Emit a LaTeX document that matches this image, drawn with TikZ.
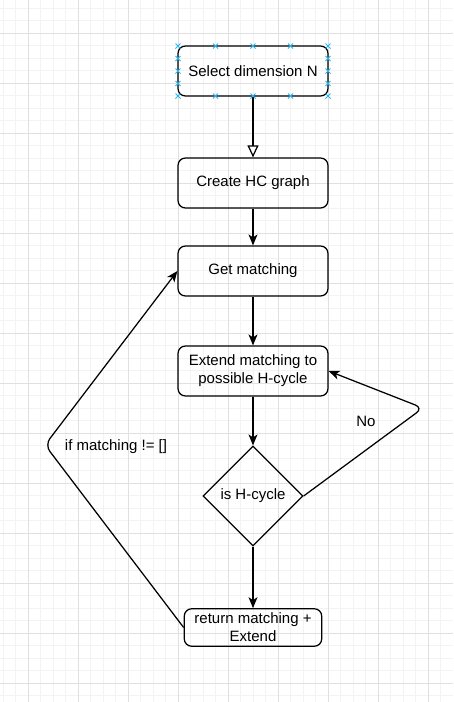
\documentclass[tikz,border=0pt]{standalone}
\usepackage{fontspec}
\setmainfont{Liberation Sans}
\usetikzlibrary{arrows.meta,shapes.geometric}
\definecolor{minorgrid}{RGB}{243,243,243}
\definecolor{majorgrid}{RGB}{224,224,224}
\definecolor{handleblue}{RGB}{41,182,242}

\begin{document}
\begin{tikzpicture}[x=1pt,y=-1pt,
  every node/.style={font=\fontsize{15}{18}\selectfont},
  stepbox/.style={draw,rectangle,rounded corners=7.5pt,line width=1.25pt,
    minimum width=150pt,minimum height=50pt,align=center,inner sep=2pt},
  testbox/.style={draw,diamond,line width=1.25pt,minimum width=100pt,
    minimum height=100pt,inner sep=0pt,align=center},
  flow/.style={line width=1.25pt,-{Stealth[length=11pt,width=9pt,inset=3pt]}},
  openflow/.style={line width=1.25pt,-{Triangle[open,length=12pt,width=11pt,fill=white]}},
  loopflow/.style={flow,rounded corners=8pt},
  handle/.style={handleblue,line width=1pt}]
\useasboundingbox (0,0) rectangle (453,702);
\fill[white] (0,0) rectangle (453,702);
\foreach \gx in {3.3,15.8,...,453} \draw[minorgrid,line width=1pt] (\gx,0) -- (\gx,702);
\foreach \gy in {8.3,20.8,...,702} \draw[minorgrid,line width=1pt] (0,\gy) -- (453,\gy);
\foreach \gx in {28.3,78.3,...,453} \draw[majorgrid,line width=1pt] (\gx,0) -- (\gx,702);
\foreach \gy in {33.3,83.3,...,702} \draw[majorgrid,line width=1pt] (0,\gy) -- (453,\gy);

\node[stepbox] (dim) at (253,71) {Select dimension N};
\node[stepbox] (hc) at (253,183) {Create HC graph};
\node[stepbox] (get) at (253,271) {Get matching};
\node[stepbox] (ext) at (253,371) {Extend matching to\\possible H-cycle};
\node[testbox] (ishc) at (253,496) {is H-cycle};
\node[stepbox,minimum width=137.5pt,minimum height=37.5pt] (ret) at (253,627.5) {return matching +\\Extend};

\coordinate (nobend) at (423,408);
\coordinate (loopbend) at (45,445);

\draw[openflow] (dim.south) -- (hc.north);
\draw[flow] (hc.south) -- (get.north);
\draw[flow] (get.south) -- (ext.north);
\draw[flow] (ext.south) -- (ishc.north);
\draw[flow] (ishc.south) -- (ret.north);
\draw[loopflow] (ishc.east) -- (nobend) -- (ext.east);
\draw[loopflow] (ret.west) -- (loopbend) -- (get.west);
\node (nolbl) at (366,421) {No};
\node (looplbl) at (116,447) {if matching != []};

\foreach \hx/\hy in {178/46,215.5/46,253/46,290.5/46,328/46,
  178/96,215.5/96,253/96,290.5/96,328/96,
  178/58.5,178/71,178/83.5,328/58.5,328/71,328/83.5}
  \draw[handle] (\hx-2.5,\hy-2.5) -- (\hx+2.5,\hy+2.5) (\hx-2.5,\hy+2.5) -- (\hx+2.5,\hy-2.5);
\end{tikzpicture}
\end{document}
